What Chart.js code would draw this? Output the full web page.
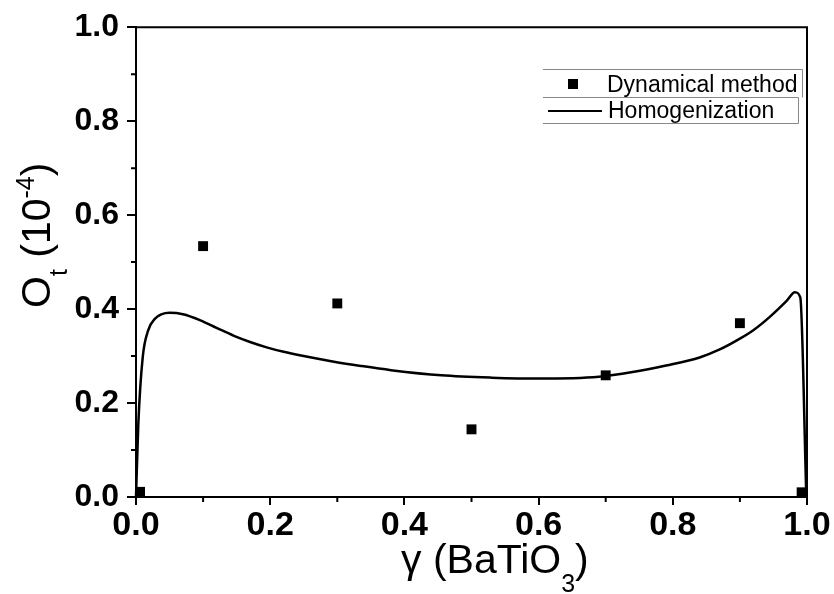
<!DOCTYPE html>
<html>
<head>
<meta charset="utf-8">
<script src="https://cdn.jsdelivr.net/npm/chart.js@4"></script>
<style>
    body { margin: 0; background: #fff; }
    #wrap { width: 834px; height: 594px; }
</style>
</head>
<body>
<div id="wrap"><canvas id="chart" width="834" height="594"></canvas></div>
<script>
// Dynamical method (squares)
const dynX = [0.006, 0.1, 0.3, 0.5, 0.7, 0.9, 0.992];
const dynY = [0.011, 0.534, 0.412, 0.144, 0.259, 0.370, 0.010];

// Homogenization (line)
const homX = [0, 0.0035, 0.01, 0.018, 0.028, 0.05, 0.07, 0.096, 0.12, 0.146, 0.17, 0.196, 0.22, 0.246,
    0.295, 0.335, 0.38, 0.455, 0.53, 0.60, 0.69, 0.74, 0.79, 0.84, 0.87, 0.90, 0.92, 0.945, 0.97,
    0.982, 0.99, 0.999];
const homY = [0, 0.157, 0.297, 0.354, 0.379, 0.392, 0.389, 0.376, 0.360, 0.343, 0.330, 0.318, 0.309, 0.301,
    0.288, 0.279, 0.270, 0.259, 0.254, 0.252, 0.256, 0.266, 0.280, 0.297, 0.314, 0.337, 0.355, 0.384, 0.418,
    0.436, 0.425, 0];

const majorTicks = [0.0, 0.2, 0.4, 0.6, 0.8, 1.0];
const minorTicks = [0.1, 0.3, 0.5, 0.7, 0.9];

const legendLabels = ['Dynamical method', 'Homogenization'];

const FONT = "'Liberation Sans', Arial, sans-serif";

// draws pieces of text in a row, some as sub/superscript
function drawRich(ctx, parts, x, y) {
    let cx = x;
    parts.forEach(p => {
        ctx.font = p.size + 'px ' + FONT;
        ctx.fillText(p.text, cx, y + (p.dy || 0));
        cx += ctx.measureText(p.text).width;
    });
}

const decorPlugin = {
    id: 'decor',
    afterDraw(chart) {
        const { ctx, chartArea: a, scales } = chart;
        ctx.save();

        // top and right frame + minor ticks
        ctx.strokeStyle = '#000';
        ctx.lineWidth = 2;
        ctx.beginPath();
        ctx.moveTo(a.left, a.top);
        ctx.lineTo(a.right, a.top);
        ctx.lineTo(a.right, a.bottom);
        minorTicks.forEach(v => {
            const px = scales.x.getPixelForValue(v);
            ctx.moveTo(px, a.bottom);
            ctx.lineTo(px, a.bottom + 5);
            const py = scales.y.getPixelForValue(v);
            ctx.moveTo(a.left, py);
            ctx.lineTo(a.left - 5, py);
        });
        ctx.stroke();

        // legend
        ctx.strokeStyle = '#888';
        ctx.lineWidth = 1;
        ctx.beginPath();
        ctx.moveTo(543, 69.5); ctx.lineTo(802.5, 69.5); ctx.lineTo(802.5, 97.5);
        ctx.moveTo(543, 97.5); ctx.lineTo(798.5, 97.5); ctx.lineTo(798.5, 123.5); ctx.lineTo(543, 123.5);
        ctx.stroke();

        ctx.fillStyle = '#000';
        ctx.fillRect(568, 79, 10, 10);
        ctx.strokeStyle = '#000';
        ctx.lineWidth = 2;
        ctx.beginPath();
        ctx.moveTo(548, 111);
        ctx.lineTo(602, 111);
        ctx.stroke();

        ctx.textAlign = 'left';
        ctx.textBaseline = 'alphabetic';
        ctx.font = '23px ' + FONT;
        ctx.fillText(legendLabels[0], 607, 92);
        ctx.fillText(legendLabels[1], 608, 118);

        // x title
        drawRich(ctx, [
            { text: 'γ (BaTiO', size: 41 },
            { text: '3', size: 25, dy: 19 },
            { text: ')', size: 41 }
        ], 401, 573);

        // y title (rotated)
        ctx.translate(50, 308);
        ctx.rotate(-Math.PI / 2);
        drawRich(ctx, [
            { text: 'O', size: 41 },
            { text: 't', size: 25, dy: 17 },
            { text: ' (10', size: 41 },
            { text: '-4', size: 25, dy: -16 },
            { text: ')', size: 41 }
        ], 0, 0);

        ctx.restore();
    }
};

function setTicks(scale) {
    scale.ticks = majorTicks.map(v => ({ value: v }));
}

const chart = new Chart(document.getElementById('chart').getContext('2d'), {
    type: 'scatter',
    data: {
        datasets: [{
            label: legendLabels[0],
            data: dynX.map((x, i) => ({ x: x, y: dynY[i] })),
            pointStyle: 'rect',
            pointRadius: 7,
            backgroundColor: '#000',
            borderColor: '#000',
            borderWidth: 0,
            clip: false
        }, {
            label: legendLabels[1],
            data: homX.map((x, i) => ({ x: x, y: homY[i] })),
            showLine: true,
            pointRadius: 0,
            borderColor: '#000',
            borderWidth: 2.5,
            cubicInterpolationMode: 'monotone',
            clip: false
        }]
    },
    options: {
        responsive: false,
        animation: false,
        layout: { padding: { top: 25, right: 27, left: 0, bottom: 0 } },
        plugins: {
            legend: { display: false },
            tooltip: { enabled: false }
        },
        scales: {
            x: {
                type: 'linear',
                min: 0,
                max: 1,
                afterBuildTicks: setTicks,
                afterFit: s => { s.height = 97; },
                border: { display: true, color: '#000', width: 2 },
                grid: { drawOnChartArea: false, tickLength: 8, color: '#000', lineWidth: 2 },
                ticks: {
                    padding: 0,
                    color: '#000',
                    font: { family: FONT, size: 34, weight: 'bold' },
                    callback: v => v.toFixed(1)
                }
            },
            y: {
                type: 'linear',
                min: 0,
                max: 1,
                afterBuildTicks: setTicks,
                afterFit: s => { s.width = 136; },
                border: { display: true, color: '#000', width: 2 },
                grid: { drawOnChartArea: false, tickLength: 9, color: '#000', lineWidth: 2 },
                ticks: {
                    padding: 8,
                    color: '#000',
                    font: { family: FONT, size: 32, weight: 'bold' },
                    callback: v => v.toFixed(1)
                }
            }
        }
    },
    plugins: [decorPlugin]
});
</script>
</body>
</html>
